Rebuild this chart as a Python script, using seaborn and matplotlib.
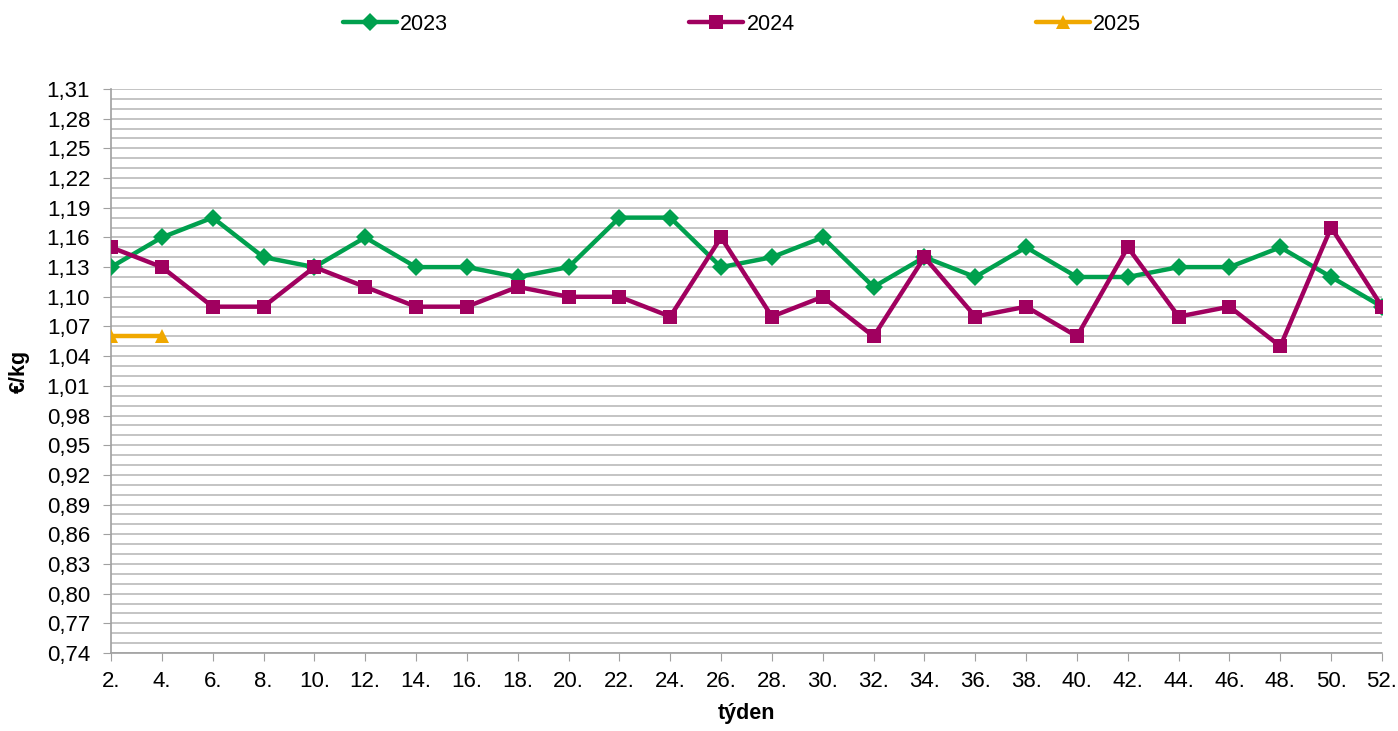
import numpy as np
import pandas as pd
import matplotlib
matplotlib.use("Agg")
import matplotlib.pyplot as plt
import seaborn as sns
from matplotlib.ticker import FuncFormatter

# chart data
weeks = ["2.", "4.", "6.", "8.", "10.", "12.", "14.", "16.", "18.", "20.", "22.", "24.", "26.",
         "28.", "30.", "32.", "34.", "36.", "38.", "40.", "42.", "44.", "46.", "48.", "50.", "52."]
y2023 = [1.13, 1.16, 1.18, 1.14, 1.13, 1.16, 1.13, 1.13, 1.12, 1.13, 1.18, 1.18, 1.13,
         1.14, 1.16, 1.11, 1.14, 1.12, 1.15, 1.12, 1.12, 1.13, 1.13, 1.15, 1.12, 1.09]
y2024 = [1.15, 1.13, 1.09, 1.09, 1.13, 1.11, 1.09, 1.09, 1.11, 1.10, 1.10, 1.08, 1.16,
         1.08, 1.10, 1.06, 1.14, 1.08, 1.09, 1.06, 1.15, 1.08, 1.09, 1.05, 1.17, 1.09]
y2025 = [1.06, 1.06]

series = {"2023": y2023, "2024": y2024, "2025": y2025}
colors = {"2023": "#00A04E", "2024": "#A0005F", "2025": "#F0A800"}
markers = {"2023": "D", "2024": "s", "2025": "^"}
msize = {"2023": 9, "2024": 10.5, "2025": 9.5}

sns.set_style("white")
plt.rcParams["font.family"] = ["Liberation Sans", "DejaVu Sans"]
plt.rcParams["text.color"] = "black"
plt.rcParams["xtick.color"] = "black"
plt.rcParams["ytick.color"] = "black"
plt.rcParams["axes.labelcolor"] = "black"

fig = plt.figure(figsize=(13.98, 7.31), dpi=100)
ax = fig.add_axes([111 / 1398, 1 - 653 / 731, (1382 - 111) / 1398, (653 - 89) / 731])

for name, vals in series.items():
    df = pd.DataFrame({"pos": range(len(vals)), "val": vals})
    sns.lineplot(data=df, x="pos", y="val", ax=ax, color=colors[name], linewidth=3.2,
                 marker=markers[name], markersize=msize[name], markeredgewidth=0,
                 label=name, zorder=3)

ax.set_xlim(0, len(weeks) - 1)
ax.set_ylim(0.74, 1.31)
ax.set_xticks(range(len(weeks)))
ax.set_xticklabels(weeks)
ax.set_yticks(np.round(np.arange(0.74, 1.3101, 0.03), 2))
ax.set_yticks(np.round(np.arange(0.74, 1.3101, 0.01), 2), minor=True)
ax.yaxis.set_major_formatter(FuncFormatter(lambda v, p: f"{v:.2f}".replace(".", ",")))
ax.grid(True, which="both", axis="y", color="#b4b4b4", linewidth=1.1)
ax.set_axisbelow(True)
ax.tick_params(axis="both", which="major", direction="out", length=6, color="#a0a0a0",
               labelsize=16, left=True, bottom=True)
ax.tick_params(axis="y", which="major", pad=9)
ax.tick_params(axis="y", which="minor", length=0)
ax.tick_params(axis="x", pad=7)
for s in ["top", "right"]:
    ax.spines[s].set_visible(False)
for s in ["left", "bottom"]:
    ax.spines[s].set_color("#a0a0a0")
    ax.spines[s].set_linewidth(1.2)

ax.set_xlabel("týden", fontsize=15.5, fontweight="bold", labelpad=8)
ax.set_ylabel("€/kg", fontsize=15.5, fontweight="bold", labelpad=12)

ax.get_legend().remove()
handles, labels = ax.get_legend_handles_labels()
fig.legend(handles, labels, loc="center", bbox_to_anchor=(742 / 1398, 1 - 24 / 731), ncol=3,
           frameon=False, fontsize=15.5, handlelength=2.5, handletextpad=0.15,
           columnspacing=11.2)

fig.savefig("out.png", dpi=100)
